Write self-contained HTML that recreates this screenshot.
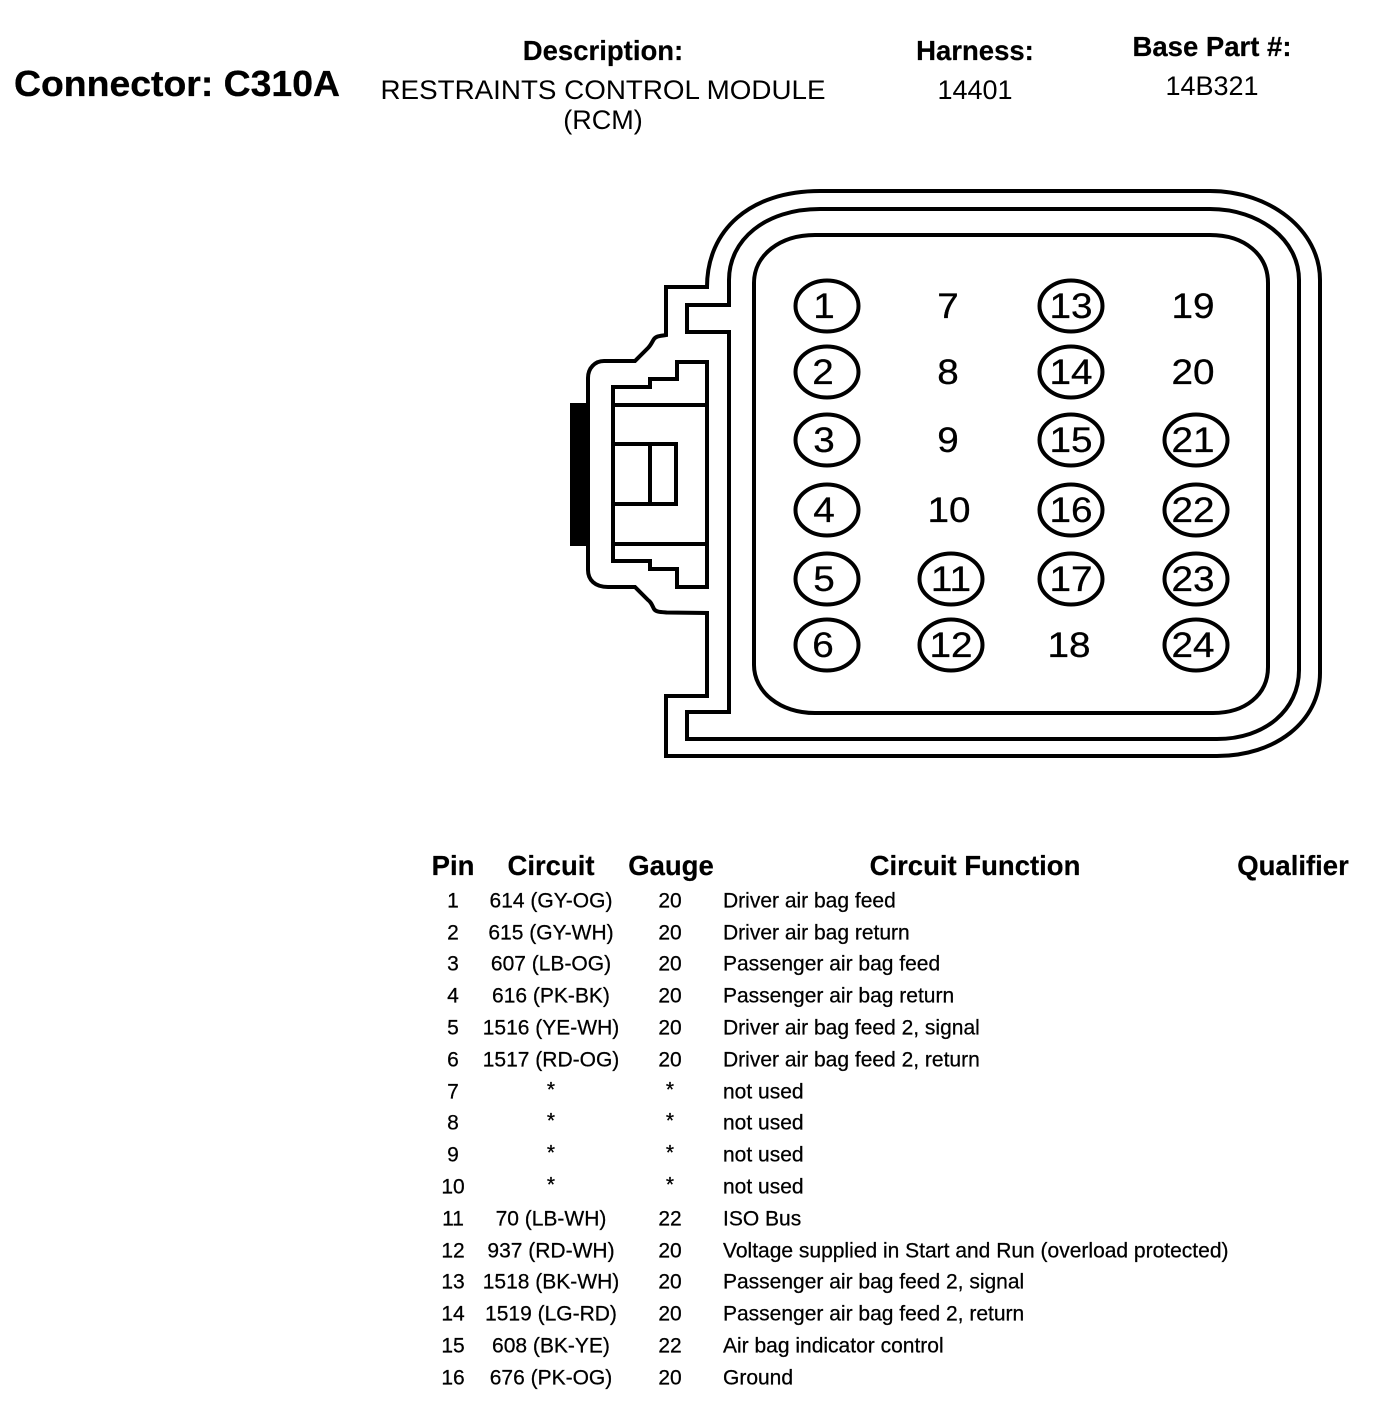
<!DOCTYPE html>
<html lang="en"><head><meta charset="utf-8"><title>Connector C310A</title>
<style>
html,body{margin:0;padding:0;background:#fff;width:1392px;height:1412px;overflow:hidden}
svg{display:block}
text{font-family:"Liberation Sans",Arial,sans-serif;fill:#000}
.b{font-weight:bold;stroke:#000;stroke-width:.3}
.h{font-size:27.5px;font-weight:bold;text-anchor:middle;stroke:#000;stroke-width:.2}
.s{font-size:27px;text-anchor:middle}
.n{font-size:35.5px;text-anchor:middle;stroke:#000;stroke-width:.3;transform-box:fill-box;transform-origin:center;transform:translateY(-1px) scaleX(1.09)}
.t{font-size:21px;stroke:#000;stroke-width:.25}
.m{text-anchor:middle}
.l{fill:none;stroke:#000;stroke-width:4;stroke-linejoin:miter}
ellipse{fill:none;stroke:#000;stroke-width:4}
</style></head><body>
<svg width="1392" height="1412" viewBox="0 0 1392 1412" xmlns="http://www.w3.org/2000/svg">
<rect width="1392" height="1412" fill="#fff"/>
<text class="b" x="14" y="96" font-size="36" textLength="326" lengthAdjust="spacingAndGlyphs">Connector: C310A</text>
<text class="h" x="603" y="60">Description:</text>
<text class="s" x="603" y="99" textLength="445" lengthAdjust="spacingAndGlyphs">RESTRAINTS CONTROL MODULE</text>
<text class="s" x="603" y="129">(RCM)</text>
<text class="h" x="975" y="60">Harness:</text>
<text class="s" x="975" y="99">14401</text>
<text class="h" x="1212" y="56">Base Part #:</text>
<text class="s" x="1212" y="95">14B321</text>

<path class="l" d="M820 191H1210C1270 191 1320 230 1320 280V673C1320 722 1275 756 1217 756H666V696H707V613L667 612.5C660 612 656 612 654 609C652 605 651 602 648 600L635 587H608C595 587 588 580 588 570V378C588 368 595 361 604 361H635L648 348C651 345 652 342 654 339C656 336 660 336 666 335V287H707C707 230 750 191 820 191Z"/>
<path class="l" d="M820 209H1210C1260 209 1299 240 1299 280V670C1299 710 1265 739 1217 739H687V712H729V332H687V305H729V280C729 240 765 209 820 209Z"/>
<path class="l" d="M815 235H1210C1245 235 1268 255 1268 283V667C1268 695 1245 713 1213 713H815C780 713 754 692 754 665V283C754 255 780 235 815 235Z"/>
<rect x="570" y="403" width="19" height="143" fill="#000"/>
<path class="l" d="M613 387H650V379H677V362H707V587H677V569H650V561H613Z"/>
<path class="l" d="M613 405H707M613 544H707M613 444H676V504H613M650 444V504"/>

<ellipse cx="827" cy="306" rx="31.5" ry="25.5"/><ellipse cx="827" cy="372" rx="31.5" ry="25.5"/><ellipse cx="827" cy="440" rx="31.5" ry="25.5"/><ellipse cx="827" cy="510" rx="31.5" ry="25.5"/><ellipse cx="827" cy="579" rx="31.5" ry="25.5"/><ellipse cx="827" cy="645" rx="31.5" ry="25.5"/>
<ellipse cx="951" cy="579" rx="31.5" ry="25.5"/><ellipse cx="951" cy="645" rx="31.5" ry="25.5"/>
<ellipse cx="1071" cy="306" rx="31.5" ry="25.5"/><ellipse cx="1071" cy="372" rx="31.5" ry="25.5"/><ellipse cx="1071" cy="440" rx="31.5" ry="25.5"/><ellipse cx="1071" cy="510" rx="31.5" ry="25.5"/><ellipse cx="1071" cy="579" rx="31.5" ry="25.5"/>
<ellipse cx="1196" cy="440" rx="31.5" ry="25.5"/><ellipse cx="1196" cy="510" rx="31.5" ry="25.5"/><ellipse cx="1196" cy="579" rx="31.5" ry="25.5"/><ellipse cx="1196" cy="645" rx="31.5" ry="25.5"/>

<text class="n" x="824" y="319">1</text><text class="n" x="823" y="385">2</text><text class="n" x="824" y="453">3</text><text class="n" x="824" y="523">4</text><text class="n" x="824" y="592">5</text><text class="n" x="823" y="658">6</text>
<text class="n" x="948" y="319">7</text><text class="n" x="948" y="385">8</text><text class="n" x="948" y="453">9</text><text class="n" x="949" y="523">10</text><text class="n" x="951" y="592">11</text><text class="n" x="951" y="658">12</text>
<text class="n" x="1071" y="319">13</text><text class="n" x="1071" y="385">14</text><text class="n" x="1071" y="453">15</text><text class="n" x="1071" y="523">16</text><text class="n" x="1071" y="592">17</text><text class="n" x="1069" y="658">18</text>
<text class="n" x="1193" y="319">19</text><text class="n" x="1193" y="385">20</text><text class="n" x="1193" y="453">21</text><text class="n" x="1193" y="523">22</text><text class="n" x="1193" y="592">23</text><text class="n" x="1193" y="658">24</text>

<text class="h" x="453" y="875">Pin</text><text class="h" x="551" y="875">Circuit</text><text class="h" x="671" y="875">Gauge</text><text class="h" x="975" y="875">Circuit Function</text><text class="h" x="1293" y="875">Qualifier</text>

<g transform="translate(0,-0.5)">
<text class="t m" x="453" y="908">1</text><text class="t m" x="551" y="908">614 (GY-OG)</text><text class="t m" x="670" y="908">20</text><text class="t" x="723" y="908">Driver air bag feed</text>
<text class="t m" x="453" y="940">2</text><text class="t m" x="551" y="940">615 (GY-WH)</text><text class="t m" x="670" y="940">20</text><text class="t" x="723" y="940">Driver air bag return</text>
<text class="t m" x="453" y="971">3</text><text class="t m" x="551" y="971">607 (LB-OG)</text><text class="t m" x="670" y="971">20</text><text class="t" x="723" y="971">Passenger air bag feed</text>
<text class="t m" x="453" y="1003">4</text><text class="t m" x="551" y="1003">616 (PK-BK)</text><text class="t m" x="670" y="1003">20</text><text class="t" x="723" y="1003">Passenger air bag return</text>
<text class="t m" x="453" y="1035">5</text><text class="t m" x="551" y="1035">1516 (YE-WH)</text><text class="t m" x="670" y="1035">20</text><text class="t" x="723" y="1035">Driver air bag feed 2, signal</text>
<text class="t m" x="453" y="1067">6</text><text class="t m" x="551" y="1067">1517 (RD-OG)</text><text class="t m" x="670" y="1067">20</text><text class="t" x="723" y="1067">Driver air bag feed 2, return</text>
<text class="t m" x="453" y="1099">7</text><text class="t m" x="551" y="1097">*</text><text class="t m" x="670" y="1097">*</text><text class="t" x="723" y="1099">not used</text>
<text class="t m" x="453" y="1130">8</text><text class="t m" x="551" y="1128">*</text><text class="t m" x="670" y="1128">*</text><text class="t" x="723" y="1130">not used</text>
<text class="t m" x="453" y="1162">9</text><text class="t m" x="551" y="1160">*</text><text class="t m" x="670" y="1160">*</text><text class="t" x="723" y="1162">not used</text>
<text class="t m" x="453" y="1194">10</text><text class="t m" x="551" y="1192">*</text><text class="t m" x="670" y="1192">*</text><text class="t" x="723" y="1194">not used</text>
<text class="t m" x="453" y="1226">11</text><text class="t m" x="551" y="1226">70 (LB-WH)</text><text class="t m" x="670" y="1226">22</text><text class="t" x="723" y="1226">ISO Bus</text>
<text class="t m" x="453" y="1258">12</text><text class="t m" x="551" y="1258">937 (RD-WH)</text><text class="t m" x="670" y="1258">20</text><text class="t" x="723" y="1258">Voltage supplied in Start and Run (overload protected)</text>
<text class="t m" x="453" y="1289">13</text><text class="t m" x="551" y="1289">1518 (BK-WH)</text><text class="t m" x="670" y="1289">20</text><text class="t" x="723" y="1289">Passenger air bag feed 2, signal</text>
<text class="t m" x="453" y="1321">14</text><text class="t m" x="551" y="1321">1519 (LG-RD)</text><text class="t m" x="670" y="1321">20</text><text class="t" x="723" y="1321">Passenger air bag feed 2, return</text>
<text class="t m" x="453" y="1353">15</text><text class="t m" x="551" y="1353">608 (BK-YE)</text><text class="t m" x="670" y="1353">22</text><text class="t" x="723" y="1353">Air bag indicator control</text>
<text class="t m" x="453" y="1385">16</text><text class="t m" x="551" y="1385">676 (PK-OG)</text><text class="t m" x="670" y="1385">20</text><text class="t" x="723" y="1385">Ground</text>
</g>
</svg>
</body></html>
